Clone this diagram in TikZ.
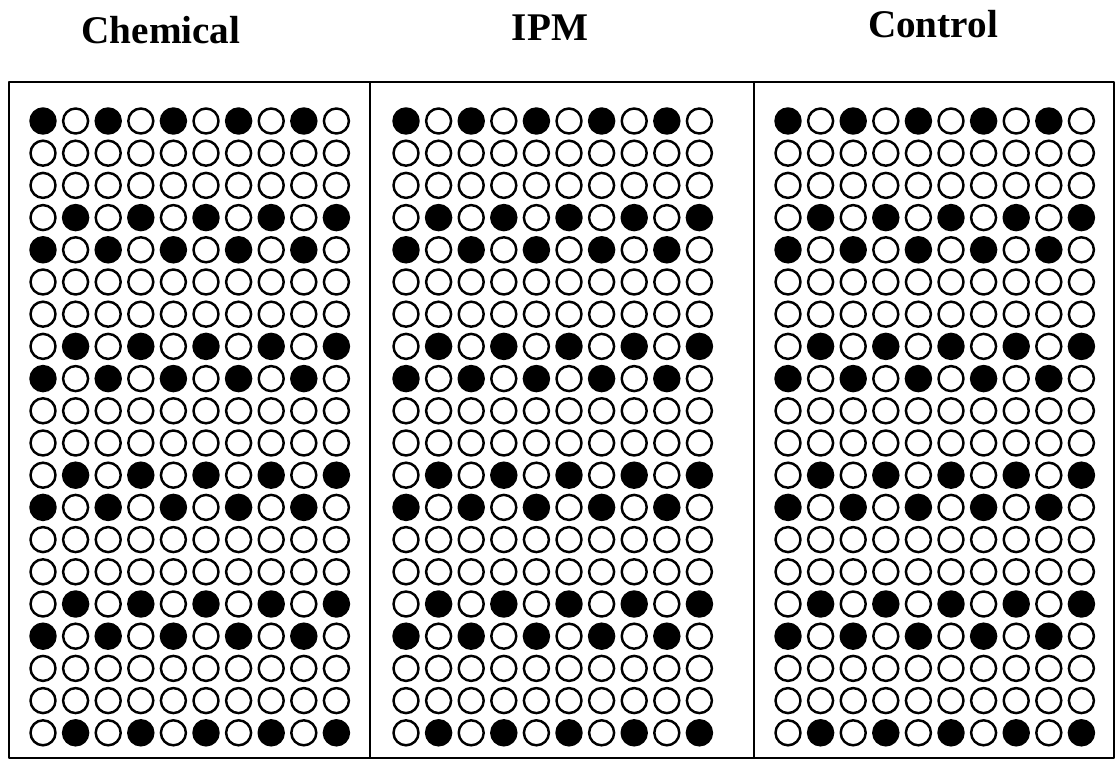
\documentclass[tikz,border=0pt]{standalone}
\usepackage{fontspec}
\setmainfont{Liberation Serif}
\usepackage{tikz}
\usetikzlibrary{calc}

\tikzset{
  title/.style={font=\bfseries\fontsize{22.3}{27}\selectfont, inner sep=0pt},
  well/.style={circle, draw, line width=1.4pt, minimum size=0.5cm, inner sep=0pt},
  frame/.style={line width=1.2pt}
}

\begin{document}
\begin{tikzpicture}[x=0.02cm, y=-0.02cm, line join=round]
    \useasboundingbox (0,0) rectangle (1119,763);
    % titles
    \node[title] (chemical) at (161,30) {Chemical};
    \node[title] (ipm) at (550,28) {IPM};
    \node[title] (control) at (933,24) {Control};
    % frame and dividers
    \draw[frame] (9,82) rectangle (1114,758);
    \draw[frame] (370,82) -- (370,758);
    \draw[frame] (754,82) -- (754,758);
    % wells
    \foreach \p/\x in {chem/43, ipm/406, ctrl/788} {
      \foreach \r in {0,...,19} {
        \foreach \c in {0,...,9} {
          \pgfmathtruncatemacro\full{or(and(mod(\r,4)==0,mod(\c,2)==0),and(mod(\r,4)==3,mod(\c,2)==1))}
          \ifnum\full=1 \def\wellfill{black}\else\def\wellfill{white}\fi
          \node[well, fill=\wellfill] (\p-\r-\c) at (\x+\c*32.6, 121+\r*32.2) {};
        }
      }
    }
\end{tikzpicture}
\end{document}
